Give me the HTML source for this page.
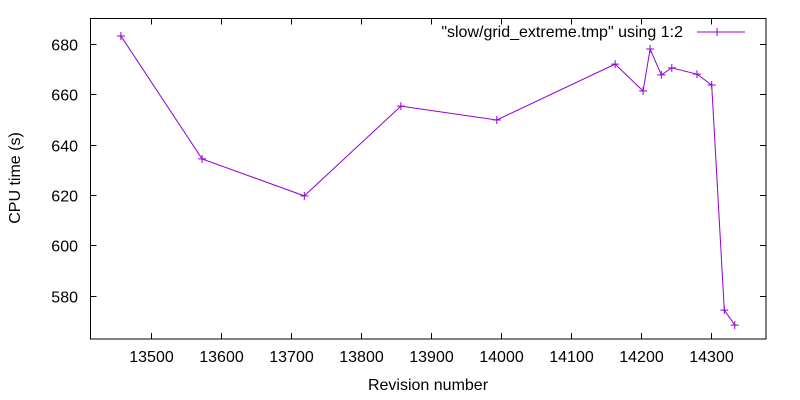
<!DOCTYPE html>
<html><head><meta charset="utf-8"><style>body{margin:0;background:#fff}svg{display:block;font-family:"Liberation Sans","DejaVu Sans",sans-serif}</style></head>
<body>
<svg id="chart" width="800" height="400">
<rect x="90.5" y="18.5" width="675.5" height="320.5" fill="none" stroke="#000" stroke-width="1"/>
<g id="ticks"></g>
<text x="683" y="37" text-anchor="end" font-size="16">"slow/grid_extreme.tmp" using 1:2</text>
<line x1="697" y1="32" x2="745" y2="32" stroke="#9400d3"/>
<path d="M717,28v8M713,32h8" stroke="#9400d3"/>
<text x="428" y="390" text-anchor="middle" font-size="16">Revision number</text>
<text transform="translate(20,178) rotate(-90)" text-anchor="middle" font-size="16">CPU time (s)</text>
<g id="series"></g>
</svg>
<script>
const revisions=[13457,13573,13719,13857,13994,14163,14203,14213,14229,14244,14280,14301,14319,14334];
const cpuTimes=[683.2,634.3,619.6,655.3,649.8,672,661.3,678,667.7,670.5,668,663.7,574.2,568.2];
const xTicks=[13500,13600,13700,13800,13900,14000,14100,14200,14300];
const yTicks=[580,600,620,640,660,680];
const ns="http://www.w3.org/2000/svg";
function xs(v){return 151+(v-13500)*0.7;}
function ys(v){return 44+(680-v)*2.515;}
const tg=document.getElementById('ticks');
function mk(t,a,p){const e=document.createElementNS(ns,t);for(const k in a)e.setAttribute(k,a[k]);p.appendChild(e);return e;}
xTicks.forEach(v=>{const x=Math.round(xs(v))+0.5;
const t=mk('path',{d:`M${x},339v-6M${x},18.5v6`,stroke:'#000'},tg);


const l=mk('text',{x:x,y:362,'text-anchor':'middle','font-size':16},tg);l.textContent=v;

});
yTicks.forEach(v=>{const y=Math.round(ys(v))+0.5;
const t=mk('path',{d:`M90.5,${y}h6M766,${y}h-6`,stroke:'#000'},tg);


const l=mk('text',{x:78,y:y+6,'text-anchor':'end','font-size':16},tg);l.textContent=v;

});
const sg=document.getElementById('series');
const pts=revisions.map((r,i)=>[xs(r),ys(cpuTimes[i])]);
const line=mk('polyline',{points:pts.map(p=>p.join(',')).join(' '),fill:'none',stroke:'#9400d3','stroke-width':1},sg);


pts.forEach(p=>{const m=mk('path',{d:`M${p[0]},${p[1]-4}v8M${p[0]-4},${p[1]}h8`,stroke:'#9400d3'},sg);

});
</script>
</body></html>
